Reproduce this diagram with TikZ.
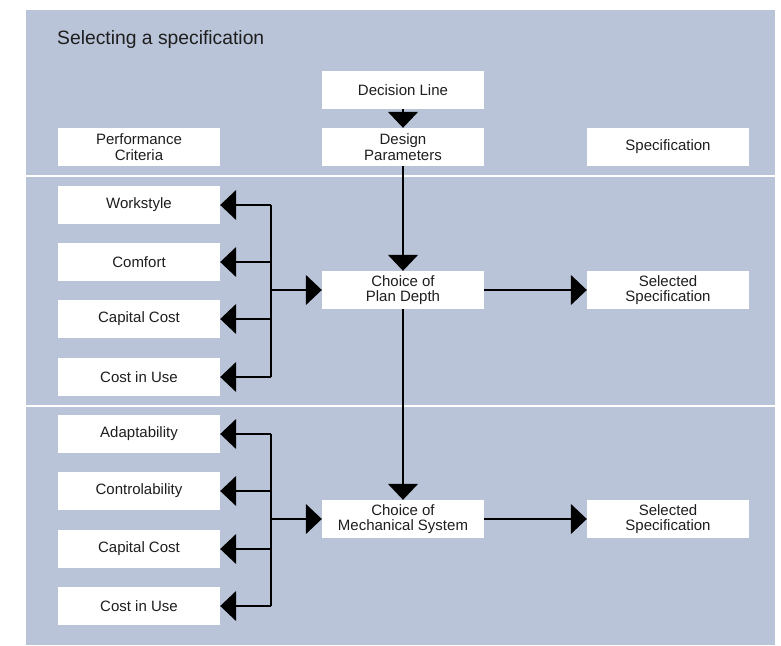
\documentclass[tikz,border=0pt]{standalone}
\usepackage{fontspec}
\setmainfont{Liberation Sans}
\usetikzlibrary{arrows.meta}
\definecolor{bgblue}{RGB}{186,196,217}
\definecolor{txt}{RGB}{30,30,30}
\tikzset{
  box/.style={rectangle, fill=white, minimum width=162pt, minimum height=38pt,
    inner sep=0pt, align=center, text=txt,
    font=\fontsize{15pt}{15.5pt}\selectfont},
  conn/.style={line width=1.4pt, -{Triangle[width=30pt,length=16pt]}},
  bus/.style={line width=1.4pt},
  sep/.style={draw=white, line width=1.5pt}
}
\begin{document}
\begin{tikzpicture}[x=1pt,y=-1pt]
\useasboundingbox (0,0) rectangle (781,645);
\fill[bgblue] (26,10) rectangle (775,645);
\coordinate (s1l) at (26,176); \coordinate (s1r) at (775,176);
\coordinate (s2l) at (26,406); \coordinate (s2r) at (775,406);
\draw[sep] (s1l) -- (s1r);
\draw[sep] (s2l) -- (s2r);
\node[anchor=base west, inner sep=0pt, text=txt, font=\fontsize{19.3pt}{21pt}\selectfont] (title) at (57,44) {Selecting a specification};

\node[box] (dl) at (403,90) {Decision Line};
\node[box] (pc) at (139,147) {Performance\\Criteria};
\node[box] (dp) at (403,147) {Design\\Parameters};
\node[box] (sp) at (668,147) {Specification};

\node[box] (ws) at (139,205) {Workstyle};
\node[box] (cf) at (139,262) {Comfort};
\node[box] (cc1) at (139,319) {Capital Cost};
\node[box] (cu1) at (139,377) {Cost in Use};
\node[box] (pd) at (403,290) {Choice of\\Plan Depth};
\node[box] (ss1) at (668,290) {Selected\\Specification};

\node[box] (ad) at (139,434) {Adaptability};
\node[box] (ct) at (139,491) {Controlability};
\node[box] (cc2) at (139,549) {Capital Cost};
\node[box] (cu2) at (139,606) {Cost in Use};
\node[box] (ms) at (403,519) {Choice of\\Mechanical System};
\node[box] (ss2) at (668,519) {Selected\\Specification};

\draw[conn] (dl) -- (dp);
\draw[conn] (dp) -- (pd);
\draw[conn] (pd) -- (ms);
\draw[conn] (pd) -- (ss1);
\draw[conn] (ms) -- (ss2);

% bus 1
\coordinate (b1t) at (271,205);
\coordinate (b1b) at (271,377);
\coordinate (b1m) at (271,290);
\draw[bus] (b1t) -- (b1b);
\draw[conn] (b1m) -- (pd);
\draw[conn] (b1t) -- (ws.east);
\draw[conn] (b1t |- cf) -- (cf.east);
\draw[conn] (b1t |- cc1) -- (cc1.east);
\draw[conn] (b1b) -- (cu1.east);

% bus 2
\coordinate (b2t) at (271,434);
\coordinate (b2b) at (271,606);
\coordinate (b2m) at (271,519);
\draw[bus] (b2t) -- (b2b);
\draw[conn] (b2m) -- (ms);
\draw[conn] (b2t) -- (ad.east);
\draw[conn] (b2t |- ct) -- (ct.east);
\draw[conn] (b2t |- cc2) -- (cc2.east);
\draw[conn] (b2b) -- (cu2.east);
\end{tikzpicture}
\end{document}
